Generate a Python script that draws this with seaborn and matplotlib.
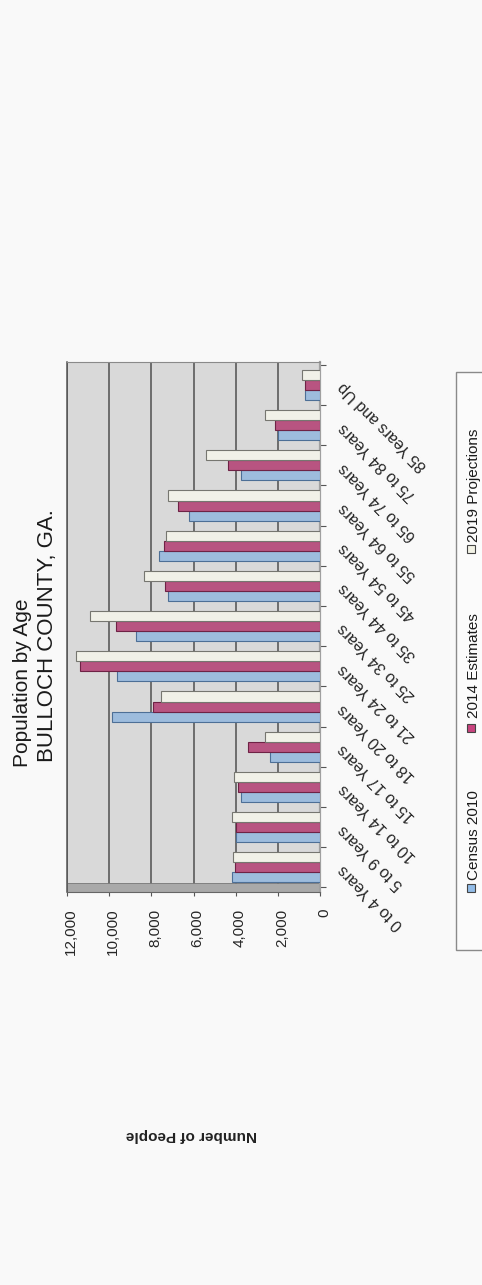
import numpy as np
import pandas as pd
import seaborn as sns
import matplotlib
matplotlib.use("Agg")
import matplotlib.pyplot as plt
from matplotlib.patches import Rectangle
from matplotlib.transforms import ScaledTranslation
from matplotlib.ticker import FixedLocator, FuncFormatter

# Population by age group, Bulloch County, GA
age_groups = ["0 to 4 Years", "5 to 9 Years", "10 to 14 Years", "15 to 17 Years",
              "18 to 20 Years", "21 to 24 Years", "25 to 34 Years", "35 to 44 Years",
              "45 to 54 Years", "55 to 64 Years", "65 to 74 Years", "75 to 84 Years",
              "85 Years and Up"]
census_2010 = [4160, 4000, 3730, 2350, 9870, 9650, 8730, 7190, 7620, 6220, 3730, 1990, 710]
estimates_2014 = [4050, 4000, 3890, 3410, 7940, 11400, 9680, 7330, 7410, 6750, 4370, 2140, 690]
projections_2019 = [4130, 4160, 4100, 2620, 7540, 11560, 10920, 8330, 7300, 7220, 5400, 2620, 850]
series_names = ["Census 2010", "2014 Estimates", "2019 Projections"]
value_ticks = [0, 2000, 4000, 6000, 8000, 10000, 12000]

face_colors = ["#92bce8", "#c9437f", "#f3f3e6"]
edge_colors = ["#4d6f96", "#6e2245", "#767670"]

df = pd.DataFrame({
    "age": age_groups * 3,
    "series": np.repeat(series_names, len(age_groups)),
    "value": census_2010 + estimates_2014 + projections_2019,
})

sns.set_theme(style="white")
plt.rcParams["font.family"] = ["Liberation Sans", "DejaVu Sans"]

W, H = 482, 1285
DPI = 100
fig = plt.figure(figsize=(W / DPI, H / DPI), dpi=DPI, facecolor="#f9f9f9")


def fx(x):
    return x / W


def fy(y):
    return 1 - y / H


# Plot area (the chart is laid on its side: values run right-to-left)
left, right, top, bottom = 67, 320, 362, 892
ax = fig.add_axes([fx(left), fy(bottom), fx(right - left), (bottom - top) / H])
ax.set_facecolor("#d9d9d9")

sns.barplot(data=df, y="age", x="value", hue="series", order=age_groups,
            hue_order=series_names, palette=face_colors, width=0.75,
            orient="h", legend=False, linewidth=0.8, ax=ax)
for container, ec in zip(ax.containers, edge_colors):
    for bar in container:
        bar.set_edgecolor(ec)
        bar.set_zorder(3)

ax.set_xlim(12000, 0)
ax.set_ylim(-0.612, 12.57)

# value axis along the bottom
ax.set_xticks(value_ticks)
ax.xaxis.set_major_formatter(FuncFormatter(lambda v, p: f"{int(v):,}"))
ax.tick_params(axis="x", which="major", labelrotation=90, length=3, width=0.8,
               color="#555555", pad=9, labelsize=11, bottom=True)
ax.set_axisbelow(True)
ax.grid(axis="x", color="#4f4f4f", linewidth=1.1)
ax.grid(axis="y", visible=False)

# category axis on the right with slanted labels
ax.yaxis.tick_right()
ax.set_ylabel("")
ax.yaxis.set_minor_locator(FixedLocator(np.arange(-0.5, 13, 1.0)))
ax.tick_params(axis="y", which="major", length=0, pad=15, labelsize=11.5,
               left=False, right=True)
ax.tick_params(axis="y", which="minor", length=4, width=0.8, color="#555555",
               left=False, right=True)
for lab in ax.get_yticklabels():
    lab.set_rotation(135)
    lab.set_rotation_mode("anchor")
    lab.set_ha("right")
    lab.set_va("center")
for lab in ax.get_xticklabels():
    lab.set_transform(lab.get_transform() + ScaledTranslation(4 / DPI, 0, fig.dpi_scale_trans))

# side wall strip at the base of the plot
ax.add_patch(Rectangle((0, 0), 1, 9 / (bottom - top), transform=ax.transAxes,
                       facecolor="#a9a9a9", edgecolor="#777777", linewidth=0.6, zorder=0.8))

for side, col, lw in [("left", "#555555", 1.1), ("top", "#8a8a8a", 0.8),
                      ("right", "#a0a0a0", 1.6), ("bottom", "#666666", 0.8)]:
    ax.spines[side].set_visible(True)
    ax.spines[side].set_color(col)
    ax.spines[side].set_linewidth(lw)

ax.set_xlabel("Number of People", rotation=180, fontsize=11, fontweight="bold",
              color="#222222")
ax.xaxis.set_label_coords(0.49, -(1135 - bottom) / (bottom - top))
ax.xaxis.label.set_va("center")

# title, reading upward along the left edge
fig.text(fx(23), fy(767), "Population by Age", rotation=90, ha="center", va="bottom",
         fontsize=15, color="#1a1a1a")
fig.text(fx(48), fy(762), "BULLOCH COUNTY, GA.", rotation=90, ha="center", va="bottom",
         fontsize=16, color="#1a1a1a")

# legend box along the right edge
fig.add_artist(Rectangle((fx(456), fy(950)), fx(490 - 456), (950 - 372) / H,
                         transform=fig.transFigure, facecolor="#fbfbfb",
                         edgecolor="#8a8a8a", linewidth=1.0))
legend_rows = [(series_names[0], 888, 880), (series_names[1], 728, 718),
               (series_names[2], 549, 542)]
sq = 8
for (name, sq_y, txt_y), fc, ec in zip(legend_rows, face_colors, edge_colors):
    fig.add_artist(Rectangle((fx(471 - sq / 2), fy(sq_y + sq / 2)), sq / W, sq / H,
                             transform=fig.transFigure, facecolor=fc,
                             edgecolor="#444444", linewidth=0.8))
    fig.text(fx(474), fy(txt_y), name, rotation=90, ha="center", va="bottom",
             fontsize=11, color="#1a1a1a")

fig.savefig("out.png", dpi=DPI, facecolor=fig.get_facecolor())
